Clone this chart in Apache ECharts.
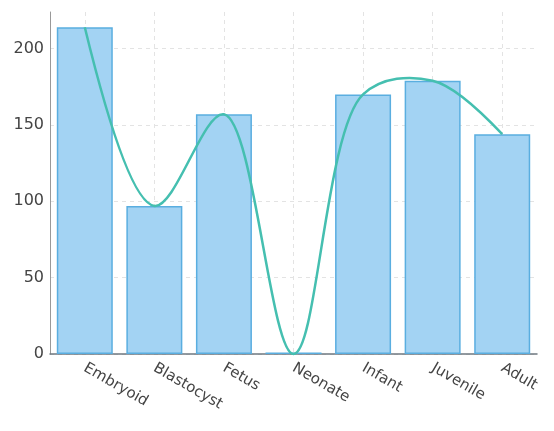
<!DOCTYPE html>
<html>
<head>
<meta charset="utf-8">
<script src="https://cdn.jsdelivr.net/npm/echarts@6/dist/echarts.min.js"></script>
<style>
html,body{margin:0;padding:0;background:#fff;}
#chart{width:554px;height:431px;}
</style>
</head>
<body>
<div id="chart"></div>
<script>
const categories = ['Embryoid', 'Blastocyst', 'Fetus', 'Neonate', 'Infant', 'Juvenile', 'Adult'];
const barValues = [214, 97, 157, 1, 170, 179, 144];
const lineValues = [214, 97, 157, 0, 170, 179, 144];
const yTicks = { min: 0, max: 224, interval: 50 };

// centripetal Catmull-Rom style tangents (spline through the points, in pixel space)
function tangent(p0, p1, p2, s) {
  const d1x = p0[0] - p1[0], d1y = p0[1] - p1[1];
  const d2x = p2[0] - p1[0], d2y = p2[1] - p1[1];
  const d1a = Math.pow(d1x * d1x + d1y * d1y, 0.25);
  const d2a = Math.pow(d2x * d2x + d2y * d2y, 0.25);
  const nx = (d2a * d2a * d1x - d1a * d1a * d2x) * s;
  const ny = (d2a * d2a * d1y - d1a * d1a * d2y) * s;
  const den1 = 3 * d2a * (d1a + d2a);
  const den2 = 3 * d1a * (d1a + d2a);
  return [
    [p1[0] + (den1 ? nx / den1 : 0), p1[1] + (den1 ? ny / den1 : 0)],
    [p1[0] - (den2 ? nx / den2 : 0), p1[1] - (den2 ? ny / den2 : 0)]
  ];
}
function splinePath(pts, s) {
  const n = pts.length;
  const tg = [];
  for (let i = 1; i < n - 1; i++) tg.push(tangent(pts[i - 1], pts[i], pts[i + 1], s));
  let d = 'M' + pts[0][0] + ',' + pts[0][1];
  d += 'Q' + tg[0][0][0] + ',' + tg[0][0][1] + ' ' + pts[1][0] + ',' + pts[1][1];
  for (let i = 2; i < n - 1; i++) {
    d += 'C' + tg[i - 2][1][0] + ',' + tg[i - 2][1][1] + ' ' + tg[i - 1][0][0] + ',' + tg[i - 1][0][1] + ' ' + pts[i][0] + ',' + pts[i][1];
  }
  d += 'Q' + tg[n - 3][1][0] + ',' + tg[n - 3][1][1] + ' ' + pts[n - 1][0] + ',' + pts[n - 1][1];
  return d;
}

const chart = echarts.init(document.getElementById('chart'), null, { renderer: 'canvas' });
chart.setOption({
  animation: false,
  grid: { left: 50, right: 17, top: 12, bottom: 77, containLabel: false },
  xAxis: {
    type: 'category',
    data: categories,
    boundaryGap: true,
    axisLine: { show: true, lineStyle: { color: '#6f7880', width: 1.5 } },
    axisTick: { show: false, alignWithLabel: true },
    axisLabel: {
      rotate: -30,
      color: '#444',
      fontSize: 15,
      fontFamily: 'DejaVu Sans',
      margin: 13,
      interval: 0
    },
    splitLine: {
      show: true,
      alignWithLabel: true,
      lineStyle: { color: '#e3e3e3', type: [4, 4], width: 1 }
    }
  },
  yAxis: {
    type: 'value',
    min: yTicks.min,
    max: yTicks.max,
    interval: yTicks.interval,
    axisLine: { show: true, lineStyle: { color: '#999', width: 1 } },
    axisTick: { show: false },
    axisLabel: {
      color: '#444',
      fontSize: 16,
      fontFamily: 'DejaVu Sans',
      margin: 6,
      showMaxLabel: false
    },
    splitLine: {
      show: true,
      showMaxLine: false,
      lineStyle: { color: '#e3e3e3', type: [4, 4], width: 1 }
    }
  },
  series: [
    {
      type: 'bar',
      data: barValues,
      barWidth: 56,
      itemStyle: { color: '#a3d3f3', borderColor: '#5aaee0', borderWidth: 1.5 },
      z: 2
    },
    {
      type: 'custom',
      data: [0],
      z: 3,
      silent: true,
      renderItem: function (params, api) {
        const pts = lineValues.map(function (v, i) { return api.coord([i, v]); });
        return {
          type: 'path',
          shape: { pathData: splinePath(pts, 1) },
          style: { fill: null, stroke: '#45bfb0', lineWidth: 2.5 }
        };
      }
    }
  ]
});
</script>
</body>
</html>
